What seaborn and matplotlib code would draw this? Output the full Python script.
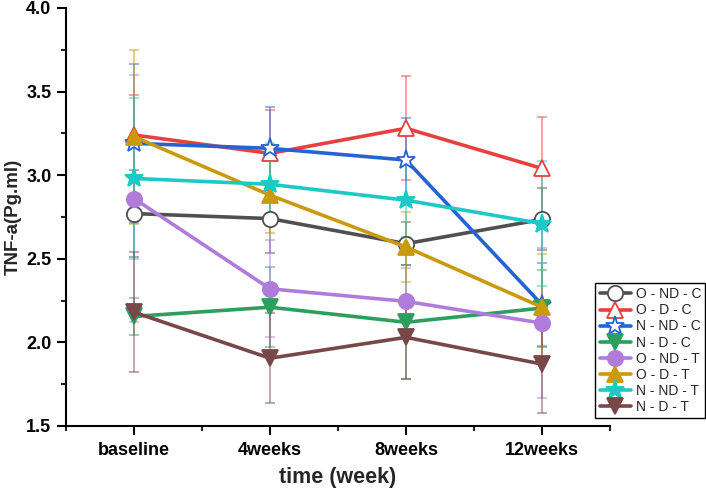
import numpy as np
import pandas as pd
import seaborn as sns
import matplotlib.pyplot as plt
from matplotlib.ticker import MultipleLocator, FixedLocator

sns.set_style("ticks")
plt.rcParams['font.family'] = ['Liberation Sans', 'DejaVu Sans']

# time points
weeks = ["baseline", "4weeks", "8weeks", "12weeks"]

# group means
o_nd_c = [2.77, 2.74, 2.59, 2.735]
o_d_c = [3.24, 3.13, 3.28, 3.04]
n_nd_c = [3.19, 3.16, 3.09, 2.225]
n_d_c = [2.155, 2.21, 2.12, 2.205]
o_nd_t = [2.86, 2.32, 2.245, 2.115]
o_d_t = [3.23, 2.88, 2.57, 2.21]
n_nd_t = [2.98, 2.945, 2.85, 2.71]
n_d_t = [2.18, 1.905, 2.03, 1.87]

# error bar half-widths
o_nd_c_err = [0.26, 0.205, 0.13, 0.185]
o_d_c_err = [0.24, 0.26, 0.31, 0.31]
n_nd_c_err = [0.475, 0.25, 0.25, 0.25]
n_d_c_err = [0.11, 0.24, 0.34, 0.225]
o_nd_t_err = [0.74, 0.29, 0.2, 0.45]
o_d_t_err = [0.52, 0.225, 0.21, 0.32]
n_nd_t_err = [0.48, 0.25, 0.22, 0.375]
n_d_t_err = [0.36, 0.27, 0.25, 0.29]

labels = ["O - ND - C", "O - D - C", "N - ND - C", "N - D - C",
          "O - ND - T", "O - D - T", "N - ND - T", "N - D - T"]
means = [o_nd_c, o_d_c, n_nd_c, n_d_c, o_nd_t, o_d_t, n_nd_t, n_d_t]
errs = [o_nd_c_err, o_d_c_err, n_nd_c_err, n_d_c_err,
        o_nd_t_err, o_d_t_err, n_nd_t_err, n_d_t_err]

colors = ["#505050", "#E8403F", "#2563D3", "#2E9E5E",
          "#B07CDC", "#C99A0E", "#1EC8C4", "#784848"]
markers = ["o", "^", "*", "v", "o", "^", "*", "v"]
sizes = [11, 12, 14, 12, 11, 12, 14, 12]
hollow = [True, True, True, False, False, False, False, False]

fig, ax = plt.subplots(figsize=(7.06, 4.93), dpi=100)
fig.subplots_adjust(left=0.0935, right=0.864, bottom=0.136, top=0.984)

# error bars first so the lines sit on top
for m, e, c in zip(means, errs, colors):
    ax.errorbar(weeks, m, yerr=e, fmt="none", ecolor=c, elinewidth=1.1,
                capsize=3.5, capthick=1.1, alpha=0.6, zorder=1)

for lab, m, c, mk, s, h in zip(labels, means, colors, markers, sizes, hollow):
    sns.lineplot(x=weeks, y=m, ax=ax, color=c, marker=mk, markersize=s,
                 markerfacecolor="white" if h else c, markeredgecolor=c,
                 markeredgewidth=1.3, linewidth=2.6, sort=False, label=lab,
                 zorder=3)

ax.set_xlim(-0.5, 3.5)
ax.set_ylim(1.5, 4.0)
ax.yaxis.set_major_locator(MultipleLocator(0.5))
ax.yaxis.set_minor_locator(MultipleLocator(0.25))
ax.xaxis.set_minor_locator(FixedLocator([-0.5, 0.5, 1.5, 2.5, 3.5]))
ax.yaxis.set_major_formatter(plt.FormatStrFormatter("%.1f"))

for sp in ["top", "right"]:
    ax.spines[sp].set_visible(False)
for sp in ["left", "bottom"]:
    ax.spines[sp].set_linewidth(1.5)
    ax.spines[sp].set_color("black")

ax.tick_params(axis="both", which="major", direction="out", length=6.5, width=1.5,
               labelsize=13, colors="black", pad=4)
ax.tick_params(axis="x", which="major", pad=5)
ax.tick_params(axis="both", which="minor", direction="out", length=3.5, width=1.5)
for t in ax.get_xticklabels() + ax.get_yticklabels():
    t.set_fontweight("bold")

ax.set_xlabel("time (week)", fontsize=15.5, fontweight="bold", labelpad=6)
ax.set_ylabel("TNF-a(Pg.ml)", fontsize=13.5, fontweight="bold", labelpad=3)

leg = ax.legend(loc="lower right", bbox_to_anchor=(0.999, 0.152),
                bbox_transform=fig.transFigure, fontsize=10, frameon=True,
                fancybox=False, edgecolor="black", handlelength=2.3,
                handletextpad=0.3, labelspacing=0.15, borderpad=0.3,
                borderaxespad=0)
leg.get_frame().set_linewidth(1.0)
leg.get_frame().set_alpha(1)

fig.savefig("out.png", dpi=100)
